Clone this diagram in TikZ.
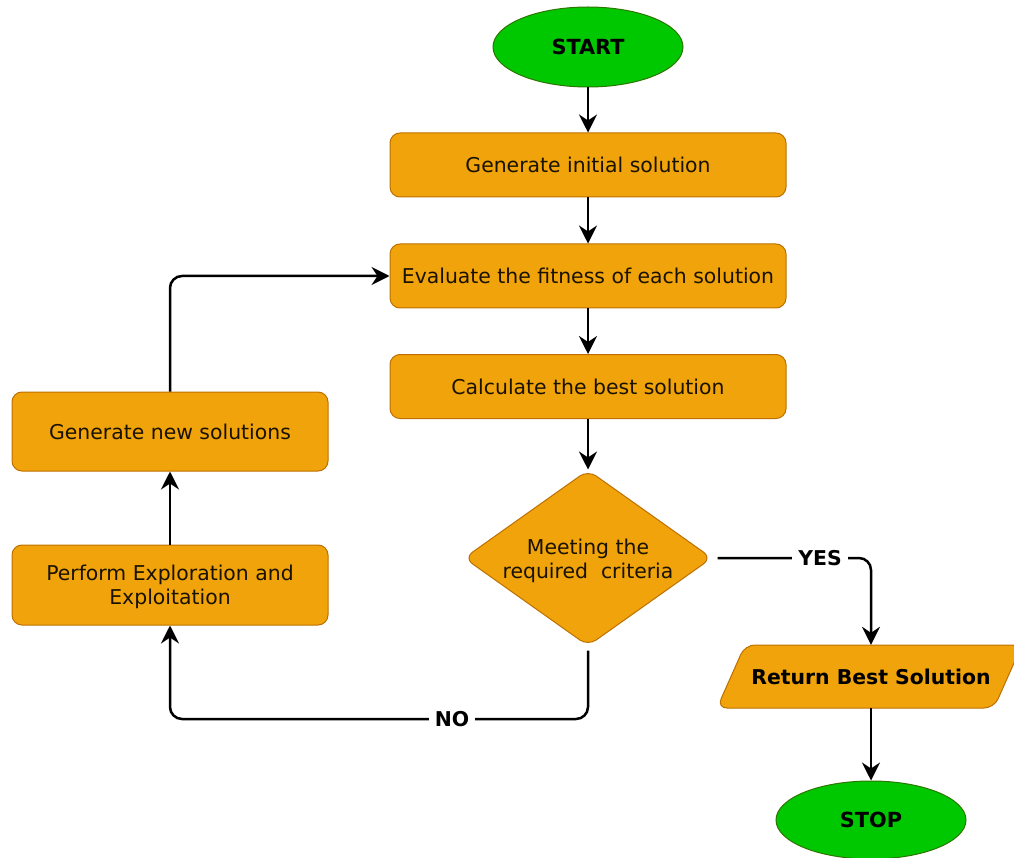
\documentclass[tikz,border=0pt]{standalone}
\usepackage{fontspec}
\setmainfont{DejaVu Sans}
\usetikzlibrary{arrows.meta,shapes.geometric}
\definecolor{orf}{HTML}{F0A30A}
\definecolor{ord}{HTML}{BD7000}
\definecolor{grf}{HTML}{00C800}
\definecolor{grd}{HTML}{2D7600}
\definecolor{txt}{HTML}{1A1200}
\begin{document}
\begin{tikzpicture}[x=1pt,y=-1pt,
 proc/.style={draw=ord,fill=orf,line width=1pt,rounded corners=10pt,minimum width=396pt,minimum height=64pt,font=\fontsize{20.4}{23.5}\selectfont,text=txt,align=center,inner sep=0pt},
 term/.style={ellipse,draw=grd,fill=grf,line width=1pt,minimum width=190pt,minimum height=80pt,font=\fontsize{20.8}{24}\selectfont\bfseries},
 conn/.style={line width=2.5pt,-{Stealth[length=18pt,width=18pt,inset=6pt]}},
 lab/.style={fill=white,font=\fontsize{20.4}{24}\selectfont\bfseries,inner xsep=6pt,inner ysep=3pt}]
\useasboundingbox (0,0) rectangle (1014,858);
\node[term] (start) at (588,47) {START};
\node[proc] (gen) at (588,165) {Generate initial solution};
\node[proc] (eval) at (588,276) {Evaluate the fitness of each solution};
\node[proc] (calc) at (588,386.5) {Calculate the best solution};
\node[diamond,draw=ord,fill=orf,line width=1pt,rounded corners=10pt,minimum width=248pt,minimum height=176pt,inner sep=0pt] (dec) at (588,558) {};
\node[font=\fontsize{20.4}{24}\selectfont,text=txt,align=center,inner sep=0pt,yshift=-3pt] (dect) at (dec.center) {Meeting the\\required~~criteria};
\node[proc,minimum width=316pt,minimum height=79pt] (newsol) at (170,431.5) {Generate new solutions};
\node[proc,minimum width=316pt,minimum height=80pt] (perf) at (170,585) {};
\node[font=\fontsize{20.4}{23.5}\selectfont,text=txt,align=center,inner sep=0pt,yshift=-2pt] (perft) at (perf.center) {Perform Exploration and\\Exploitation};
\path[draw=ord,fill=orf,line width=1pt,rounded corners=10pt] (717,708) -- (745,645) -- (1022,645) -- (994,708) -- cycle;
\node[font=\fontsize{20.4}{24}\selectfont\bfseries,minimum height=63pt,inner sep=0pt] (ret) at (871,676.5) {Return Best Solution};
\node[term,minimum height=78pt] (stop) at (871,820) {STOP};
\coordinate (nob) at (380,719);
\draw[conn] (start) -- (gen);
\draw[conn] (gen) -- (eval);
\draw[conn] (eval) -- (calc);
\draw[conn] (calc) -- (dec);
\draw[conn,rounded corners=12pt] ([xshift=5pt]dec.east) -- (dec.east -| ret.north) -- (ret.north);
\node[lab] at (820,558) {YES};
\draw[conn,rounded corners=12pt] ([yshift=-4pt]dec.south) -- (dec.south |- nob) -- (perf.south |- nob) -- (perf.south);
\node[lab] at (452,719) {NO};
\draw[conn] (perf) -- (newsol);
\draw[conn,rounded corners=12pt] (newsol.north) -- (newsol.north |- eval.west) -- (eval.west);
\draw[conn] (ret) -- (stop);
\end{tikzpicture}
\end{document}
